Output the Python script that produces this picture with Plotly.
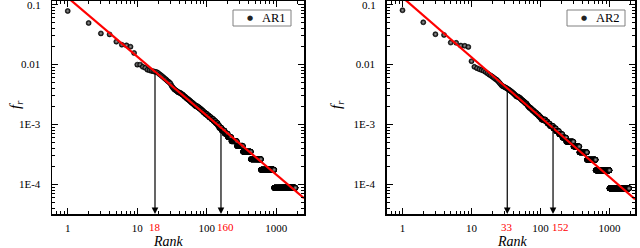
import numpy as np
import plotly.graph_objects as go

# ---------------- data ----------------
# AR1: word counts for the top ranks, then "how many words share a count" for the tail
ar1_head_counts = [886, 559, 375, 361, 273, 243, 237, 225, 177, 113, 113, 104, 100, 93, 91,
                   89, 88, 86, 85, 82, 78, 75, 72, 69, 66, 64, 61, 59, 57, 55, 51, 48, 46,
                   44, 43, 42, 41, 40, 39, 39, 38, 38]
ar1_tail_counts = [37, 36, 35, 34, 33, 32, 31, 30, 29, 28, 27, 26, 25, 24, 23, 22, 21, 20, 19,
                   18, 17, 16, 15, 14, 13, 12, 11, 10, 9, 8, 7, 6, 5, 4, 3, 2, 1]
ar1_tail_words = [1, 2, 1, 1, 2, 1, 2, 2, 2, 2, 2, 3, 2, 3, 5, 4, 4, 4, 4,
                  5, 7, 6, 8, 9, 9, 10, 7, 13, 17, 20, 25, 45, 60, 100, 170, 330, 950]
ar1_fit_C, ar1_fit_alpha = 0.131, 0.984
ar1_marks = [18, 160]
ar1_mark_labels = ["18", "160"]

# AR2
ar2_head_counts = [931, 587, 371, 361, 269, 267, 240, 238, 228, 132, 106, 101, 97, 94, 91,
                   87, 83, 79, 76, 73, 70, 67, 65, 62, 59, 56, 53, 51, 50, 49, 48, 47, 46,
                   45, 44, 43, 42, 41, 40, 39, 38, 37, 36, 35]
ar2_tail_counts = [34, 33, 32, 31, 30, 29, 28, 27, 26, 25, 24, 23, 22, 21, 20, 19, 18, 17, 16,
                   15, 14, 13, 12, 11, 10, 9, 8, 7, 6, 5, 4, 3, 2, 1]
ar2_tail_words = [3, 2, 2, 1, 2, 2, 2, 2, 3, 1, 2, 2, 4, 3, 4, 4, 5, 5, 5,
                  5, 15, 8, 10, 16, 15, 18, 22, 28, 64, 66, 105, 160, 370, 920]
ar2_fit_C, ar2_fit_alpha = 0.132, 0.998
ar2_marks = [33, 152]
ar2_mark_labels = ["33", "152"]

series_names = ["AR1", "AR2"]
x_tickvals = [1, 10, 100, 1000]
x_ticktext = ["1", "10", "100", "1000"]
y_tickvals = [0.1, 0.01, 1e-3, 1e-4]
y_ticktext = ["0.1", "0.01", "1E-3", "1E-4"]

# ---------------- build ----------------
def rank_freq(head, tail_c, tail_n):
    counts = list(head)
    for c, n in zip(tail_c, tail_n):
        counts += [c] * n
    counts = np.array(counts, dtype=float)
    ranks = np.arange(1, len(counts) + 1)
    return ranks, counts / counts.sum()

r1, f1 = rank_freq(ar1_head_counts, ar1_tail_counts, ar1_tail_words)
r2, f2 = rank_freq(ar2_head_counts, ar2_tail_counts, ar2_tail_words)

W, H = 640, 248
ml, mr, mt, mb = 52, 5, 1, 34
pw, ph = W - ml - mr, H - mt - mb

def px_x(p):
    return (p - ml) / pw

def px_y(p):
    return 1 - (p - mt) / ph

x1_range = [-0.226, 3.398]
x2_range = [-0.229, 3.370]
y_range = [-4.49, -0.94]
x1_dom = [0, 252 / pw]
x2_dom = [px_x(386.7), 1]

minor_x = [m * 10 ** d for d in range(-1, 4) for m in range(2, 10)]
minor_y = [m * 10 ** d for d in range(-6, 0) for m in range(2, 10)]

FONT = "Liberation Serif"
TICK_SIZE = 11
fig = go.Figure()

marker = dict(size=5, color="black", symbol="circle",
              gradient=dict(type="radial", color="#a0a0a0"),
              line=dict(color="black", width=0.6))

fig.add_trace(go.Scatter(x=r1, y=f1, mode="markers", marker=marker, name=series_names[0],
                         xaxis="x", yaxis="y", showlegend=False))
fig.add_trace(go.Scatter(x=r2, y=f2, mode="markers", marker=marker, name=series_names[1],
                         xaxis="x2", yaxis="y2", showlegend=False))

for C, a, xr, xa, ya in [(ar1_fit_C, ar1_fit_alpha, x1_range, "x", "y"),
                         (ar2_fit_C, ar2_fit_alpha, x2_range, "x2", "y2")]:
    xs = np.array([10 ** xr[0], 10 ** xr[1]])
    fig.add_trace(go.Scatter(x=xs, y=C * xs ** (-a), mode="lines",
                             line=dict(color="#ff0000", width=2.2),
                             showlegend=False, xaxis=xa, yaxis=ya, hoverinfo="skip"))

# empty traces so the minor-tick overlay axes get drawn
for xa, ya in [("x3", "y3"), ("x4", "y4")]:
    fig.add_trace(go.Scatter(x=[], y=[], xaxis=xa, yaxis=ya, showlegend=False,
                             hoverinfo="skip"))

annotations = []
shapes = []
for ranks, freqs, marks, labels, xa, ya, shifts in [
        (r1, f1, ar1_marks, ar1_mark_labels, "x", "y", [0, 5]),
        (r2, f2, ar2_marks, ar2_mark_labels, "x2", "y2", [0, 7])]:
    for m, lab, sh in zip(marks, labels, shifts):
        fm = freqs[m - 1]
        annotations.append(dict(x=np.log10(m), y=y_range[0], ax=np.log10(m), ay=np.log10(fm),
                                xref=xa, yref=ya, axref=xa, ayref=ya, text="",
                                showarrow=True, arrowhead=2, arrowsize=1.1, arrowwidth=1.2,
                                arrowcolor="black", standoff=0, startstandoff=0))
        annotations.append(dict(x=np.log10(m), y=0, xref=xa, yref="paper", text=lab,
                                showarrow=False, xanchor="center", yanchor="top",
                                yshift=-5, xshift=sh,
                                font=dict(family=FONT, size=TICK_SIZE, color="#ff0000")))

# the top tick label (0.1) sits at the very top edge; place it explicitly
for xa_dom, ya in [("x domain", "y"), ("x2 domain", "y2")]:
    annotations.append(dict(x=0, y=np.log10(y_tickvals[0]), xref=xa_dom, yref=ya,
                            text=y_ticktext[0], showarrow=False, xanchor="right",
                            yanchor="middle", xshift=-9,
                            font=dict(family=FONT, size=TICK_SIZE, color="black")))

# axis titles
for cx in [168, 512]:
    annotations.append(dict(x=px_x(cx), y=px_y(241), xref="paper", yref="paper",
                            text="<i>Rank</i>", showarrow=False,
                            xanchor="center", yanchor="middle",
                            font=dict(family=FONT, size=14, color="black")))
for cx in [16, 337]:
    annotations.append(dict(x=px_x(cx), y=px_y(105), xref="paper", yref="paper",
                            text="<i>f</i><sub><i>r</i></sub>", showarrow=False,
                            xanchor="center", yanchor="middle",
                            textangle=-90, font=dict(family=FONT, size=15, color="black")))

# legend boxes (drawn like the original: framed box with a dot and the series name)
for name, (x0, x1) in zip(series_names, [(233, 291), (567, 625)]):
    shapes.append(dict(type="rect", xref="paper", yref="paper",
                       x0=px_x(x0), x1=px_x(x1), y0=px_y(26), y1=px_y(10),
                       line=dict(color="#808080", width=1), fillcolor="white", layer="above"))
    annotations.append(dict(x=px_x(x0 + 17), y=px_y(18), xref="paper", yref="paper",
                            text="●", showarrow=False, xanchor="center", yanchor="middle",
                            font=dict(family="DejaVu Sans", size=7, color="#222222")))
    annotations.append(dict(x=px_x(x1 - 3), y=px_y(18), xref="paper", yref="paper",
                            text=name, showarrow=False, xanchor="right", yanchor="middle",
                            font=dict(family=FONT, size=12.5, color="black")))

def common_axis():
    return dict(type="log", ticks="inside", tickwidth=1, tickcolor="black",
                showgrid=False, zeroline=False, automargin=False, fixedrange=True,
                tickfont=dict(family=FONT, size=TICK_SIZE, color="black"))

def major_x(rng, dom, anchor):
    d = common_axis()
    d.update(range=rng, domain=dom, anchor=anchor, tickmode="array", ticklen=6,
             tickvals=x_tickvals, ticktext=x_ticktext, ticklabelstandoff=3,
             showline=True, linecolor="black", linewidth=1.5, mirror="allticks")
    return d

def major_y(dom, anchor):
    d = common_axis()
    d.update(range=y_range, domain=dom, anchor=anchor, tickmode="array", ticklen=6,
             tickvals=y_tickvals, ticktext=y_ticktext, ticklabelstandoff=8,
             showline=True, linecolor="black", linewidth=1.5, mirror="allticks")
    return d

def minor_ax(rng, dom, anchor, overlay, vals):
    d = common_axis()
    d.update(range=rng, domain=dom, anchor=anchor, overlaying=overlay, tickmode="array",
             ticklen=3, tickvals=vals, showticklabels=False, showline=False,
             mirror="allticks")
    return d

fig.update_layout(
    template="none",
    width=W, height=H, margin=dict(l=ml, r=mr, t=mt, b=mb, autoexpand=False),
    paper_bgcolor="white", plot_bgcolor="white",
    xaxis=major_x(x1_range, x1_dom, "y"),
    yaxis=major_y([0, 1], "x"),
    xaxis2=major_x(x2_range, x2_dom, "y2"),
    yaxis2=major_y([0, 1], "x2"),
    xaxis3=minor_ax(x1_range, x1_dom, "y3", "x", minor_x),
    yaxis3=minor_ax(y_range, [0, 1], "x3", "y", minor_y),
    xaxis4=minor_ax(x2_range, x2_dom, "y4", "x2", minor_x),
    yaxis4=minor_ax(y_range, [0, 1], "x4", "y2", minor_y),
    annotations=annotations,
    shapes=shapes,
    showlegend=False,
    hovermode=False,
)

fig.write_html("out.html", config={"displayModeBar": False, "staticPlot": True},
               post_script="document.body.style.margin='0';")
